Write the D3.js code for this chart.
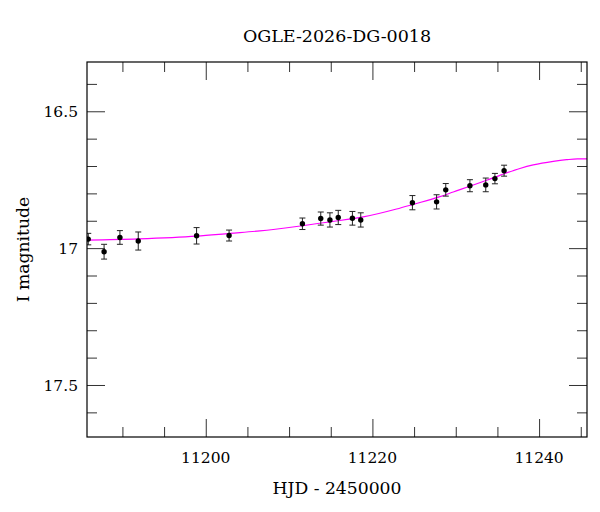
<!DOCTYPE html>
<html>
<head>
<meta charset="utf-8">
<script src="https://cdn.jsdelivr.net/npm/d3@7"></script>
<style>
  html, body { margin: 0; padding: 0; background: #fff; }
  svg { display: block; }
  text { font-family: "DejaVu Serif", serif; fill: #000; }
</style>
</head>
<body>
<svg id="chart" width="600" height="512"></svg>
<script>
// ---- data ----
const title = "OGLE-2026-DG-0018";
const xLabel = "HJD - 2450000";
const yLabel = "I magnitude";

const obsDays = [11185.9, 11187.8, 11189.7, 11191.9, 11198.9, 11202.8, 11211.6, 11213.8, 11214.9, 11215.9, 11217.6, 11218.6, 11224.8, 11227.7, 11228.8, 11231.7, 11233.6, 11234.7, 11235.8];
const obsMags = [16.967, 17.013, 16.961, 16.974, 16.955, 16.954, 16.911, 16.892, 16.897, 16.888, 16.891, 16.897, 16.834, 16.831, 16.787, 16.772, 16.769, 16.746, 16.717];
const obsErrs = [0.021, 0.027, 0.025, 0.033, 0.030, 0.020, 0.021, 0.024, 0.026, 0.026, 0.025, 0.026, 0.026, 0.026, 0.023, 0.022, 0.025, 0.019, 0.020];

const modelDays = [11185.0, 11191.9, 11198.9, 11202.9, 11206.5, 11210.9, 11214.9, 11218.9, 11222.9, 11224.9, 11228.1, 11229.7, 11233.7, 11235.3, 11237.7, 11239.3, 11241.7, 11243.3, 11244.6, 11246.0];
const modelMags = [16.971, 16.966, 16.956, 16.946, 16.937, 16.921, 16.904, 16.886, 16.857, 16.840, 16.812, 16.795, 16.752, 16.734, 16.709, 16.696, 16.683, 16.677, 16.674, 16.674];

const xMajorTicks = [11200, 11220, 11240];
const xMinorTicks = [11190, 11195, 11205, 11210, 11215, 11225, 11230, 11235, 11245];
const yMajorTicks = [16.5, 17, 17.5];
const yMinorTicks = [16.4, 16.6, 16.7, 16.8, 16.9, 17.1, 17.2, 17.3, 17.4, 17.6];

// ---- layout ----
const L = 87, R = 587, T = 62, B = 437;
const svg = d3.select("#chart");

const x = d3.scaleLinear().domain([11185.75, 11245.75]).range([L, R]);
const y = d3.scaleLinear().domain([16.32, 17.69]).range([T, B]);

svg.append("defs").append("clipPath").attr("id", "plotclip")
  .append("rect").attr("x", L).attr("y", T).attr("width", R - L).attr("height", B - T);

// ticks via d3 axes (inward, mirrored on all sides)
const majorLen = 18, minorLen = 10;
function styleAxis(g) {
  g.select(".domain").remove();
  g.selectAll(".tick line").attr("stroke", "#333").attr("stroke-width", 1);
}
// bottom
svg.append("g").attr("transform", `translate(0,${B})`)
  .call(d3.axisTop(x).tickValues(xMajorTicks).tickSize(majorLen).tickFormat(""))
  .call(styleAxis);
svg.append("g").attr("transform", `translate(0,${B})`)
  .call(d3.axisTop(x).tickValues(xMinorTicks).tickSize(minorLen).tickFormat(""))
  .call(styleAxis);
// top
svg.append("g").attr("transform", `translate(0,${T})`)
  .call(d3.axisBottom(x).tickValues(xMajorTicks).tickSize(majorLen).tickFormat(""))
  .call(styleAxis);
svg.append("g").attr("transform", `translate(0,${T})`)
  .call(d3.axisBottom(x).tickValues(xMinorTicks).tickSize(minorLen).tickFormat(""))
  .call(styleAxis);
// left
svg.append("g").attr("transform", `translate(${L},0)`)
  .call(d3.axisRight(y).tickValues(yMajorTicks).tickSize(majorLen).tickFormat(""))
  .call(styleAxis);
svg.append("g").attr("transform", `translate(${L},0)`)
  .call(d3.axisRight(y).tickValues(yMinorTicks).tickSize(minorLen).tickFormat(""))
  .call(styleAxis);
// right
svg.append("g").attr("transform", `translate(${R},0)`)
  .call(d3.axisLeft(y).tickValues(yMajorTicks).tickSize(majorLen).tickFormat(""))
  .call(styleAxis);
svg.append("g").attr("transform", `translate(${R},0)`)
  .call(d3.axisLeft(y).tickValues(yMinorTicks).tickSize(minorLen).tickFormat(""))
  .call(styleAxis);

// tick labels
svg.append("g").selectAll("text").data(xMajorTicks).join("text")
  .attr("x", d => x(d)).attr("y", 463)
  .attr("text-anchor", "middle").attr("font-size", 15.5)
  .text(d => d3.format("d")(d));
svg.append("g").selectAll("text").data(yMajorTicks).join("text")
  .attr("x", 78).attr("y", d => y(d) + 5.6)
  .attr("text-anchor", "end").attr("font-size", 15.5)
  .text(d => d3.format("")(d));

// model curve
const plot = svg.append("g").attr("clip-path", "url(#plotclip)");
const modelData = modelDays.map((d, i) => ({ t: d, m: modelMags[i] }));
plot.append("path").datum(modelData)
  .attr("fill", "none").attr("stroke", "#ff00ff").attr("stroke-width", 1.2)
  .attr("d", d3.line().x(d => x(d.t)).y(d => y(d.m)).curve(d3.curveMonotoneX));

// observations
const obs = obsDays.map((d, i) => ({ t: d, m: obsMags[i], e: obsErrs[i] }));
const eb = plot.append("g").attr("stroke", "#222").attr("stroke-width", 1);
eb.selectAll("line.v").data(obs).join("line").attr("class", "v")
  .attr("x1", d => x(d.t)).attr("x2", d => x(d.t))
  .attr("y1", d => y(d.m - d.e)).attr("y2", d => y(d.m + d.e));
eb.selectAll("line.c1").data(obs).join("line").attr("class", "c1")
  .attr("x1", d => x(d.t) - 3).attr("x2", d => x(d.t) + 3)
  .attr("y1", d => y(d.m - d.e)).attr("y2", d => y(d.m - d.e));
eb.selectAll("line.c2").data(obs).join("line").attr("class", "c2")
  .attr("x1", d => x(d.t) - 3).attr("x2", d => x(d.t) + 3)
  .attr("y1", d => y(d.m + d.e)).attr("y2", d => y(d.m + d.e));
plot.append("g").selectAll("circle").data(obs).join("circle")
  .attr("cx", d => x(d.t)).attr("cy", d => y(d.m)).attr("r", 2.7)
  .attr("fill", "#000");

// frame
svg.append("rect").attr("x", L).attr("y", T).attr("width", R - L).attr("height", B - T)
  .attr("fill", "none").attr("stroke", "#000").attr("stroke-width", 1.2);

// titles
svg.append("text").attr("x", (L + R) / 2).attr("y", 42)
  .attr("text-anchor", "middle").attr("font-size", 17.5).text(title);
svg.append("text").attr("x", (L + R) / 2).attr("y", 494)
  .attr("text-anchor", "middle").attr("font-size", 17.2).text(xLabel);
svg.append("text").attr("transform", `translate(29,${(T + B) / 2}) rotate(-90)`)
  .attr("text-anchor", "middle").attr("font-size", 17.2).text(yLabel);
</script>
</body>
</html>
